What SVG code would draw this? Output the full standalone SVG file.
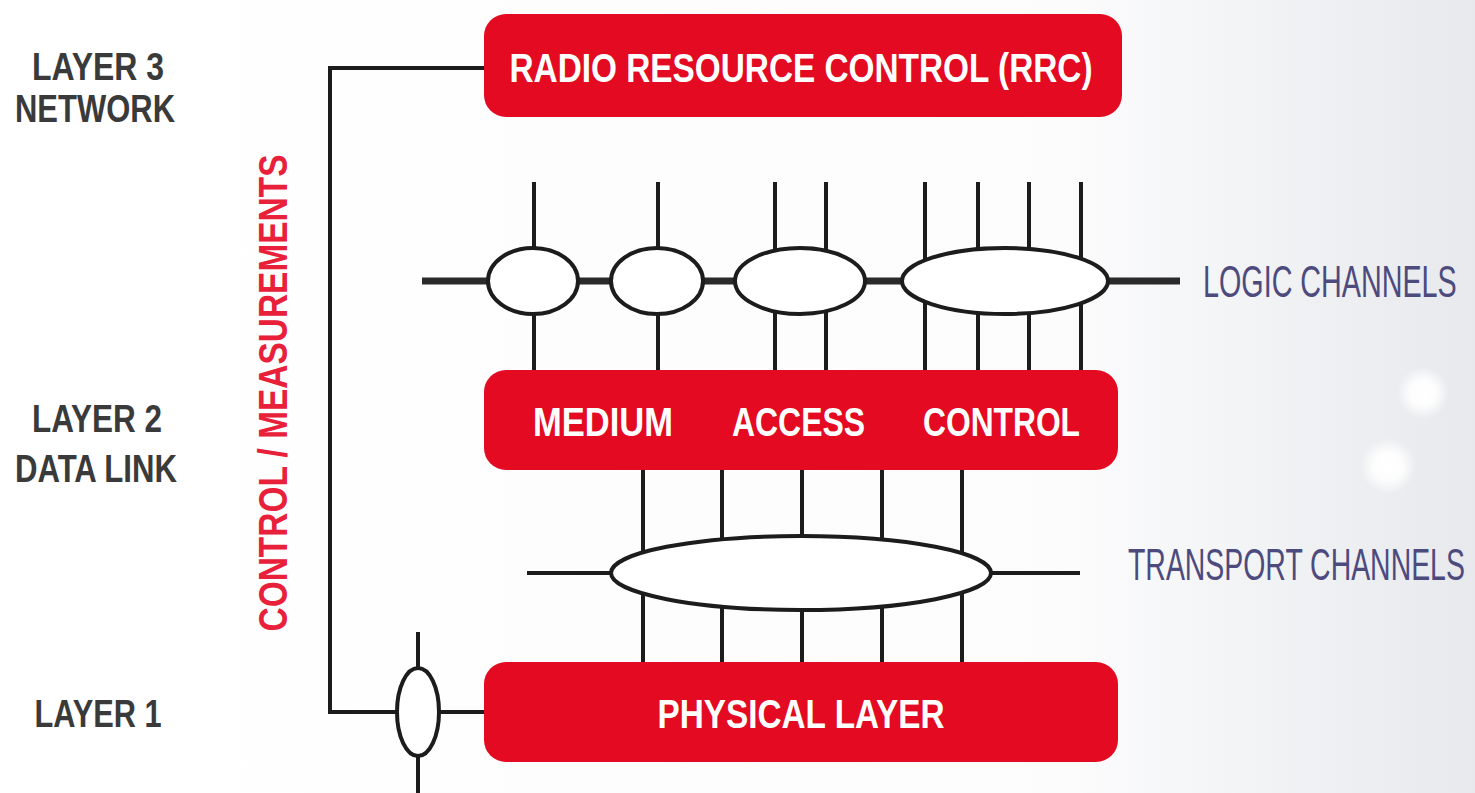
<svg xmlns="http://www.w3.org/2000/svg" width="1475" height="793" viewBox="0 0 1475 793">
<defs>
<linearGradient id="bg" x1="0" y1="0" x2="1" y2="0">
<stop offset="0" stop-color="#ffffff"/>
<stop offset="0.72" stop-color="#fcfcfd"/>
<stop offset="1" stop-color="#e7e9ec"/>
</linearGradient>
<radialGradient id="glow">
<stop offset="0" stop-color="#ffffff" stop-opacity="1"/>
<stop offset="0.5" stop-color="#ffffff" stop-opacity="0.9"/>
<stop offset="1" stop-color="#ffffff" stop-opacity="0"/>
</radialGradient>
<style>
.box{fill:#e30a22;}
.bt{font-family:"Liberation Sans",Arial,sans-serif;font-weight:bold;fill:#ffffff;font-size:40px;}
.lt{font-family:"Liberation Sans",Arial,sans-serif;font-weight:bold;fill:#3a3a3a;font-size:39px;}
.ct{font-family:"Liberation Sans",Arial,sans-serif;font-weight:bold;fill:#e8203a;font-size:41px;}
.ch{font-family:"Liberation Sans",Arial,sans-serif;fill:#4d4a7e;font-size:44px;}
.ln{stroke:#1c1c1c;stroke-width:4;fill:none;}
.el{stroke:#1c1c1c;stroke-width:4;fill:#ffffff;}
</style>
</defs>
<rect width="1475" height="793" fill="url(#bg)"/>
<circle cx="1423" cy="393" r="26" fill="url(#glow)"/>
<circle cx="1388" cy="466" r="28" fill="url(#glow)"/>

<g id="labels">
<text class="lt" x="98" y="80" text-anchor="middle" textLength="132" lengthAdjust="spacingAndGlyphs">LAYER 3</text>
<text class="lt" x="95" y="122" text-anchor="middle" textLength="160" lengthAdjust="spacingAndGlyphs">NETWORK</text>
<text class="lt" x="97" y="432" text-anchor="middle" textLength="130" lengthAdjust="spacingAndGlyphs">LAYER 2</text>
<text class="lt" x="96" y="482" text-anchor="middle" textLength="162" lengthAdjust="spacingAndGlyphs">DATA LINK</text>
<text class="lt" x="98" y="727" text-anchor="middle" textLength="127" lengthAdjust="spacingAndGlyphs">LAYER 1</text>
<text class="ct" transform="translate(287,393) rotate(-90)" x="0" y="0" text-anchor="middle" textLength="477" lengthAdjust="spacingAndGlyphs">CONTROL / MEASUREMENTS</text>
<text class="ch" transform="translate(1203,297) scale(0.653,1)" x="0" y="0">LOGIC CHANNELS</text>
<text class="ch" transform="translate(1128,580) scale(0.646,1)" x="0" y="0">TRANSPORT CHANNELS</text>
</g>

<g id="connectors">
<path class="ln" d="M484 68 H330 V712 H484"/>
<line class="ln" x1="418" y1="632" x2="418" y2="793"/>
<line x1="422" y1="281" x2="1180" y2="281" stroke="#2a2a2a" stroke-width="7"/>
<g class="ln">
<line x1="534" y1="182" x2="534" y2="370"/>
<line x1="658" y1="182" x2="658" y2="370"/>
<line x1="775" y1="182" x2="775" y2="370"/>
<line x1="826" y1="182" x2="826" y2="370"/>
<line x1="925" y1="182" x2="925" y2="370"/>
<line x1="978" y1="182" x2="978" y2="370"/>
<line x1="1029" y1="182" x2="1029" y2="370"/>
<line x1="1081" y1="182" x2="1081" y2="370"/>
</g>
<line class="ln" x1="527" y1="573" x2="1080" y2="573"/>
<g class="ln">
<line x1="643" y1="470" x2="643" y2="662"/>
<line x1="722" y1="470" x2="722" y2="662"/>
<line x1="802" y1="470" x2="802" y2="662"/>
<line x1="882" y1="470" x2="882" y2="662"/>
<line x1="962" y1="470" x2="962" y2="662"/>
</g>
</g>

<g id="logic-ellipses">
<ellipse class="el" cx="533" cy="281" rx="45" ry="33"/>
<ellipse class="el" cx="657" cy="281" rx="46" ry="33"/>
<ellipse class="el" cx="800" cy="281" rx="65" ry="33"/>
<ellipse class="el" cx="1005" cy="281" rx="103" ry="33"/>
</g>
<g id="transport-ellipse">
<ellipse class="el" cx="801" cy="573" rx="190" ry="37"/>
</g>
<g id="phy-ellipse">
<ellipse class="el" cx="418" cy="712" rx="21" ry="44"/>
</g>

<g id="rrc">
<rect class="box" x="484" y="14" width="638" height="103" rx="22"/>
<text class="bt" x="801" y="82" text-anchor="middle" textLength="583" lengthAdjust="spacingAndGlyphs">RADIO RESOURCE CONTROL (RRC)</text>
</g>
<g id="mac">
<rect class="box" x="484" y="370" width="634" height="100" rx="22"/>
<text class="bt" x="533" y="436" textLength="140" lengthAdjust="spacingAndGlyphs">MEDIUM</text>
<text class="bt" x="732" y="436" textLength="133" lengthAdjust="spacingAndGlyphs">ACCESS</text>
<text class="bt" x="923" y="436" textLength="157" lengthAdjust="spacingAndGlyphs">CONTROL</text>
</g>
<g id="phy">
<rect class="box" x="484" y="662" width="634" height="100" rx="22"/>
<text class="bt" x="801" y="728" text-anchor="middle" textLength="287" lengthAdjust="spacingAndGlyphs">PHYSICAL LAYER</text>
</g>
</svg>
